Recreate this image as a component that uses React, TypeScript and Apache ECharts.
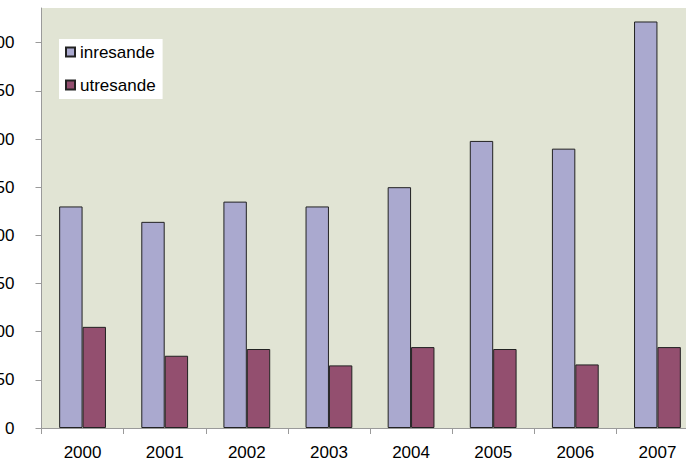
import React, { useEffect, useRef } from "react";
import * as echarts from "echarts";

const years = ["2000", "2001", "2002", "2003", "2004", "2005", "2006", "2007"];
const inresande = [230, 214, 235, 230, 250, 298, 290, 422];
const utresande = [105, 75, 82, 65, 84, 82, 66, 84];
const yTicks = [0, 50, 100, 150, 200, 250, 300, 350, 400];
const yMax = 436;

const FONT = "'Liberation Sans', Arial, sans-serif";

export default function App() {
  const ref = useRef<HTMLDivElement>(null);
  useEffect(() => {
    if (!ref.current) return;
    const chart = echarts.init(ref.current, null, { renderer: "svg" });
    chart.setOption({
      animation: false,
      backgroundColor: "#ffffff",
      textStyle: { fontFamily: FONT },
      grid: {
        left: 41.5,
        right: -12.5,
        top: 8,
        bottom: 36,
        containLabel: false,
        outerBoundsMode: "none",
        show: true,
        backgroundColor: "#e1e4d4",
        borderWidth: 0,
      },
      legend: {
        orient: "vertical",
        left: 59,
        top: 39,
        backgroundColor: "#ffffff",
        padding: [3, 7, 4, 6],
        itemWidth: 9,
        itemHeight: 9,
        itemGap: 13,
        icon: "rect",
        textStyle: { fontSize: 17, color: "#000", fontFamily: FONT, lineHeight: 20 },
        data: ["inresande", "utresande"],
      },
      xAxis: {
        type: "category",
        data: years,
        axisLine: { lineStyle: { color: "#9a9a9a", width: 1 } },
        axisTick: { show: true, length: 6, lineStyle: { color: "#9a9a9a" } },
        axisLabel: { fontSize: 17, color: "#000", margin: 16, fontFamily: FONT },
        splitLine: { show: false },
      },
      yAxis: {
        type: "value",
        min: 0,
        max: yMax,
        interval: 50,
        axisLine: { show: true, lineStyle: { color: "#9a9a9a", width: 1 } },
        axisTick: { show: true, length: 6, lineStyle: { color: "#9a9a9a" }, customValues: yTicks },
        axisLabel: { fontSize: 17, color: "#000", margin: 27, fontFamily: FONT, customValues: yTicks },
        splitLine: { show: false },
      },
      series: [
        {
          name: "inresande",
          type: "bar",
          data: inresande,
          barGap: "0%",
          barCategoryGap: "43%",
          itemStyle: { color: "#aaa9cf", borderColor: "#222222", borderWidth: 1 },
        },
        {
          name: "utresande",
          type: "bar",
          data: utresande,
          barGap: "0%",
          barCategoryGap: "43%",
          itemStyle: { color: "#934f6f", borderColor: "#222222", borderWidth: 1 },
        },
      ],
    });
    return () => chart.dispose();
  }, []);
  return (
    <div
      ref={ref}
      style={{ position: "absolute", left: 0, top: 0, width: 686, height: 464 }}
    />
  );
}
